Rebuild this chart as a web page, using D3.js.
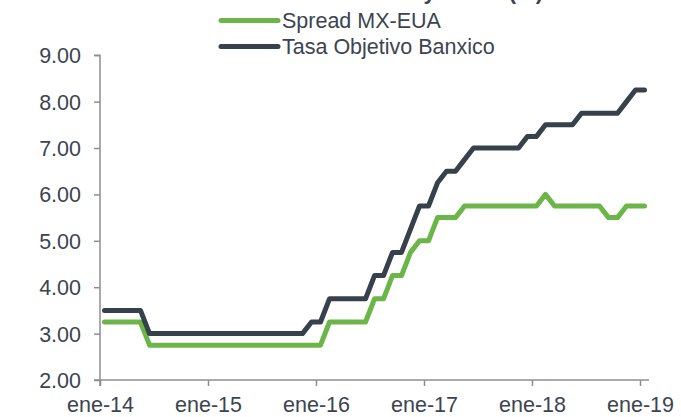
<!DOCTYPE html>
<html><head><meta charset="utf-8">
<script src="https://cdn.jsdelivr.net/npm/d3@7"></script>
<style>
html,body{margin:0;padding:0;background:#fff;}
svg{display:block;font-family:"Liberation Sans",Arial,sans-serif;}
</style></head>
<body><svg id="c" width="681" height="417"></svg>
<script>
// Monthly observations, Jan 2014 .. Jan 2019 (61 months)
const startMonth = new Date(2014, 0, 1);
const monthCount = 61;
const spread = [
  3.25,3.25,3.25,3.25,3.25,
  2.75,2.75,2.75,2.75,2.75,2.75,2.75,2.75,2.75,2.75,2.75,2.75,2.75,2.75,2.75,2.75,2.75,2.75,2.75,2.75,
  3.25,3.25,3.25,3.25,3.25,
  3.75,3.75,
  4.25,4.25,
  4.75,
  5.00,5.00,
  5.50,5.50,5.50,
  5.75,5.75,5.75,5.75,5.75,5.75,5.75,5.75,5.75,
  6.00,
  5.75,5.75,5.75,5.75,5.75,5.75,
  5.50,5.50,
  5.75,5.75,5.75
];
const banxico = [
  3.50,3.50,3.50,3.50,3.50,
  3.00,3.00,3.00,3.00,3.00,3.00,3.00,3.00,3.00,3.00,3.00,3.00,3.00,3.00,3.00,3.00,3.00,3.00,
  3.25,3.25,
  3.75,3.75,3.75,3.75,3.75,
  4.25,4.25,
  4.75,4.75,
  5.25,
  5.75,5.75,
  6.25,
  6.50,6.50,
  6.75,
  7.00,7.00,7.00,7.00,7.00,7.00,
  7.25,7.25,
  7.50,7.50,7.50,7.50,
  7.75,7.75,7.75,7.75,7.75,
  8.00,
  8.25,8.25
];
const xTickIndex = [0, 12, 24, 36, 48, 60];
const xTickLabels = ["ene-14","ene-15","ene-16","ene-17","ene-18","ene-19"];
const yTicks = [2,3,4,5,6,7,8,9];
const seriesNames = ["Spread MX-EUA","Tasa Objetivo Banxico"];
const seriesColors = ["#6cb548","#37414c"];
const titleText = "Diferencial y Tasas (%)";

const svg = d3.select("#c");
const x = d3.scaleLinear().domain([0, monthCount]).range([100, 649]);
const y = d3.scaleLinear().domain([2, 9]).range([380, 55.2]);
const axisColor = "#8e8e8e";
const textColor = "#3a4551";

// title (clipped at the top edge, as in the reference)
svg.append("text").attr("x", 305).attr("y", -1.5)
  .attr("font-size", 22).attr("font-weight", "bold").attr("fill", textColor)
  .text(titleText);

// Y axis
const yAxis = svg.append("g").attr("transform", "translate(100,0)")
  .call(d3.axisLeft(y).tickValues(yTicks).tickFormat(d3.format(".2f")).tickSize(6).tickPadding(13));
yAxis.select(".domain").attr("stroke", axisColor).attr("stroke-width", 1.5)
  .attr("d", `M-6,${y(9)}H0V${y(2)+6}`);
yAxis.selectAll(".tick line").attr("stroke", axisColor).attr("stroke-width", 1.5);
yAxis.selectAll(".tick text").attr("font-size", 21.5).attr("fill", textColor)
  .attr("font-family", "Liberation Sans, Arial, sans-serif").attr("dy", "0.35em");

// X axis
const xAxis = svg.append("g").attr("transform", `translate(0,${y(2)})`)
  .call(d3.axisBottom(x).tickValues(xTickIndex).tickFormat((d,i) => xTickLabels[i]).tickSize(6).tickPadding(11));
xAxis.select(".domain").attr("stroke", axisColor).attr("stroke-width", 1.5)
  .attr("d", `M94,0H649`);
xAxis.selectAll(".tick line").attr("stroke", axisColor).attr("stroke-width", 1.5);
xAxis.selectAll(".tick text").attr("font-size", 21.5).attr("fill", textColor)
  .attr("font-family", "Liberation Sans, Arial, sans-serif");

// lines
const line = d3.line().x((d, i) => x(i + 0.5)).y(d => y(d));
[spread, banxico].forEach((s, k) => {
  svg.append("path").datum(s).attr("d", line)
    .attr("fill", "none").attr("stroke", seriesColors[k]).attr("stroke-width", 5)
    .attr("stroke-linejoin", "round").attr("stroke-linecap", "round");
});

// legend
const lg = svg.append("g");
seriesNames.forEach((n, k) => {
  const yy = 20.5 + k * 26;
  lg.append("line").attr("x1", 221).attr("x2", 278).attr("y1", yy).attr("y2", yy)
    .attr("stroke", seriesColors[k]).attr("stroke-width", 5).attr("stroke-linecap", "round");
  lg.append("text").attr("x", 282).attr("y", yy + 7.8).attr("font-size", 21.5)
    .attr("fill", textColor).text(n);
});
</script></body></html>
